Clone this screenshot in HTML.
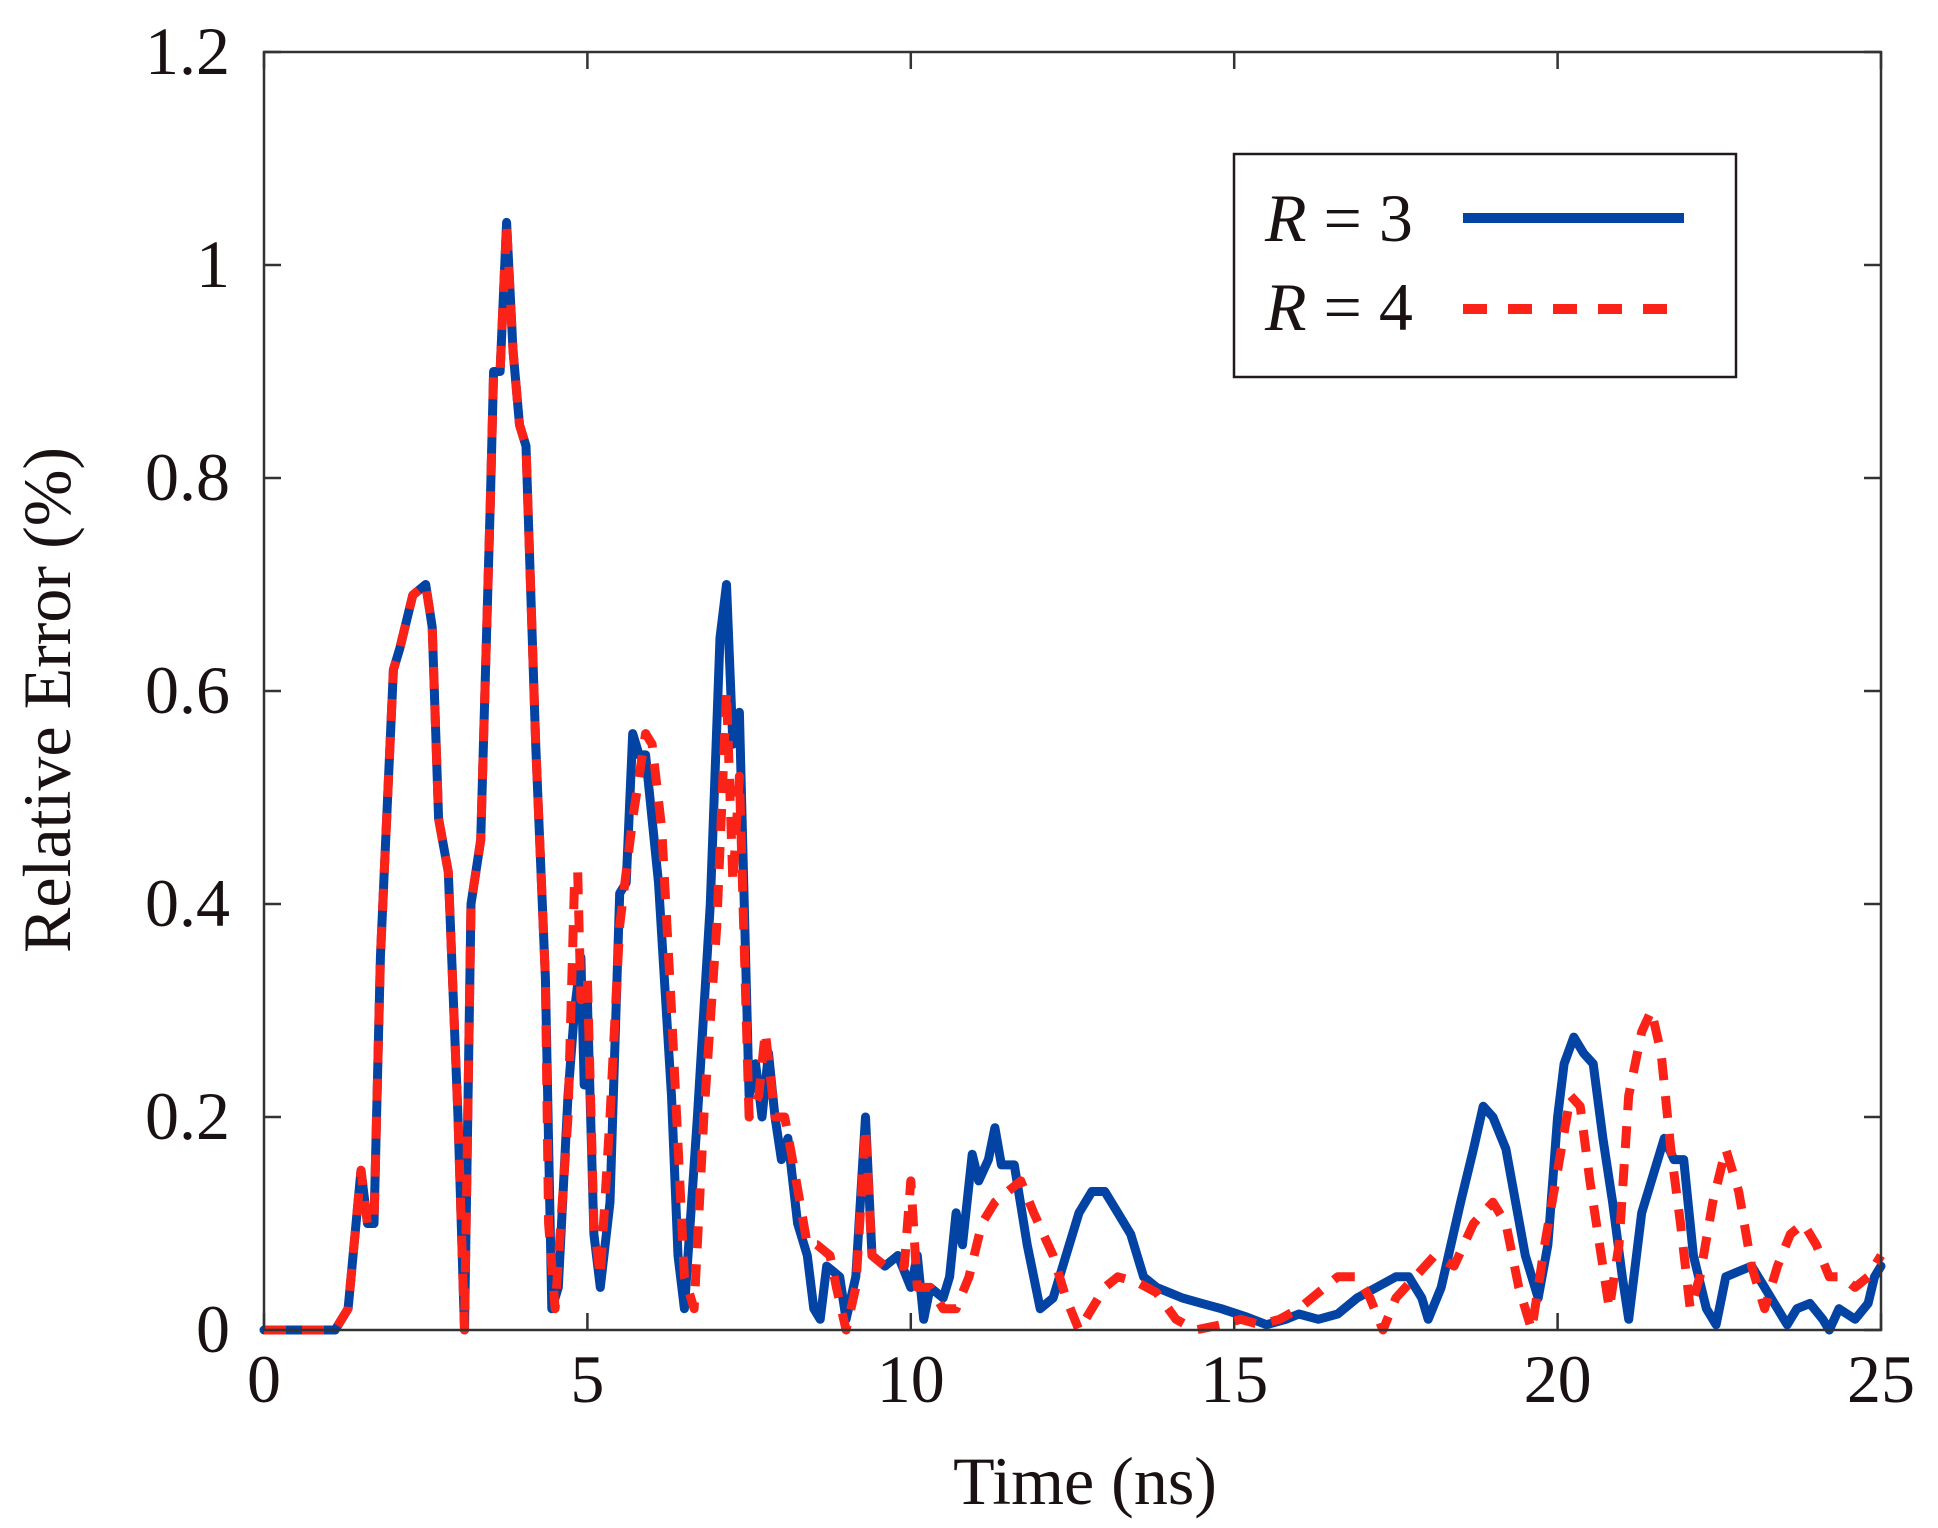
<!DOCTYPE html>
<html><head><meta charset="utf-8"><style>
html,body{margin:0;padding:0;background:#fff;}
svg{display:block;}
text{font-family:"Liberation Serif",serif;fill:#1a1212;}
</style></head><body>
<svg id="s" width="1938" height="1528" viewBox="0 0 1938 1528" xmlns="http://www.w3.org/2000/svg">
<rect x="0" y="0" width="1938" height="1528" fill="#fff"/>
<g id="ticks" stroke="#333" stroke-width="2.5" fill="none"></g>
<g id="labels" font-size="68"></g>
<text x="1085" y="1504" font-size="68" text-anchor="middle">Time (ns)</text>
<text transform="translate(70,700) rotate(-90)" font-size="68" text-anchor="middle">Relative Error (%)</text>
<path id="blue" fill="none" stroke="#0343a3" stroke-width="9" stroke-linejoin="round" stroke-linecap="round"/>
<path id="red" fill="none" stroke="#fb2217" stroke-width="9" stroke-dasharray="22 16" stroke-linejoin="round"/>
<rect x="264" y="52" width="1617" height="1278" fill="none" stroke="#333" stroke-width="2.5"/>
<rect x="1234" y="154" width="502" height="223" fill="#fff" stroke="#221a1a" stroke-width="2.5"/>
<text x="1265" y="241" font-size="68"><tspan font-style="italic">R</tspan> = 3</text>
<text x="1265" y="330" font-size="68"><tspan font-style="italic">R</tspan> = 4</text>
<line x1="1463" y1="218" x2="1684" y2="218" stroke="#0343a3" stroke-width="10"/>
<line x1="1463" y1="309" x2="1684" y2="309" stroke="#fb2217" stroke-width="10" stroke-dasharray="24 21"/>
</svg>
<script>
var X=function(t){return 264+t*1617/25;}, Y=function(v){return 1330-v*1278/1.2;};
var tk=document.getElementById('ticks'), lb=document.getElementById('labels'), ns='http://www.w3.org/2000/svg';
function el(p,n,a,txt){var e=document.createElementNS(ns,n);for(var k in a)e.setAttribute(k,a[k]);if(txt!==undefined)e.textContent=txt;p.appendChild(e);}
for(var t=0;t<=25;t+=5){var x=X(t);el(tk,'line',{x1:x,y1:1330,x2:x,y2:1313});el(tk,'line',{x1:x,y1:52,x2:x,y2:69});el(lb,'text',{x:x,y:1402,'text-anchor':'middle'},String(t));}
var yl=['0','0.2','0.4','0.6','0.8','1','1.2'];
for(var i=0;i<=6;i++){var y=Y(i*0.2);el(tk,'line',{x1:264,y1:y,x2:281,y2:y});el(tk,'line',{x1:1881,y1:y,x2:1864,y2:y});el(lb,'text',{x:230,y:y+22,'text-anchor':'end'},yl[i]);}
var common=[[0,0],[0.5,0],[1.1,0],[1.3,0.02],[1.5,0.15],[1.6,0.1],[1.7,0.1],[1.8,0.35],[2.0,0.62],[2.1,0.64],[2.3,0.69],[2.5,0.70],[2.6,0.66],[2.7,0.48],[2.85,0.43],[3.0,0.2],[3.1,0.0],[3.2,0.4],[3.35,0.46],[3.5,0.78],[3.55,0.90],[3.65,0.90],[3.75,1.04],[3.85,0.92],[3.95,0.85],[4.05,0.83],[4.2,0.55],[4.35,0.33]];
var b=common.concat([[4.45,0.02],[4.55,0.04],[4.7,0.22],[4.8,0.3],[4.9,0.35],[4.95,0.23],[5.0,0.31],[5.1,0.09],[5.2,0.04],[5.35,0.12],[5.5,0.41],[5.6,0.42],[5.7,0.56],[5.8,0.54],[5.9,0.54],[6.1,0.42],[6.3,0.22],[6.4,0.07],[6.5,0.02],[6.7,0.2],[6.9,0.4],[7.05,0.65],[7.15,0.7],[7.25,0.55],[7.35,0.58],[7.5,0.22],[7.6,0.25],[7.7,0.2],[7.8,0.26],[7.9,0.2],[8.0,0.16],[8.1,0.18],[8.25,0.1],[8.4,0.07],[8.5,0.02],[8.6,0.01],[8.7,0.06],[8.8,0.055],[8.9,0.05],[9.0,0.01],[9.15,0.05],[9.3,0.2],[9.4,0.07],[9.6,0.06],[9.8,0.07],[10.0,0.04],[10.1,0.07],[10.2,0.01],[10.3,0.04],[10.5,0.03],[10.6,0.05],[10.7,0.11],[10.8,0.08],[10.95,0.165],[11.05,0.14],[11.2,0.16],[11.3,0.19],[11.4,0.155],[11.6,0.155],[11.8,0.08],[12.0,0.02],[12.2,0.03],[12.4,0.07],[12.6,0.11],[12.8,0.13],[13.0,0.13],[13.2,0.11],[13.4,0.09],[13.6,0.05],[13.8,0.04],[14.0,0.035],[14.2,0.03],[14.5,0.025],[14.8,0.02],[15.2,0.012],[15.5,0.005],[15.8,0.01],[16.0,0.015],[16.3,0.01],[16.6,0.015],[16.9,0.03],[17.2,0.04],[17.5,0.05],[17.7,0.05],[17.9,0.03],[18.0,0.01],[18.2,0.04],[18.5,0.12],[18.7,0.17],[18.85,0.21],[19.0,0.2],[19.2,0.17],[19.35,0.12],[19.5,0.07],[19.7,0.03],[19.85,0.08],[20.0,0.2],[20.1,0.25],[20.25,0.275],[20.4,0.26],[20.55,0.25],[20.7,0.18],[20.85,0.12],[21.0,0.05],[21.1,0.01],[21.3,0.11],[21.5,0.15],[21.65,0.18],[21.8,0.16],[21.95,0.16],[22.1,0.07],[22.3,0.02],[22.45,0.005],[22.6,0.05],[22.8,0.055],[23.0,0.06],[23.2,0.04],[23.4,0.02],[23.55,0.005],[23.7,0.02],[23.9,0.025],[24.1,0.01],[24.2,0.0],[24.35,0.02],[24.6,0.01],[24.8,0.025],[24.9,0.05],[25.0,0.06]]);
var r=common.concat([[4.4,0.1],[4.5,0.02],[4.7,0.2],[4.8,0.42],[4.85,0.43],[4.9,0.31],[5.0,0.33],[5.1,0.1],[5.2,0.05],[5.35,0.2],[5.5,0.38],[5.7,0.48],[5.9,0.56],[6.0,0.55],[6.15,0.47],[6.3,0.3],[6.5,0.05],[6.65,0.02],[6.8,0.2],[7.0,0.38],[7.15,0.6],[7.25,0.42],[7.35,0.52],[7.5,0.2],[7.65,0.22],[7.75,0.28],[7.9,0.2],[8.05,0.2],[8.2,0.15],[8.4,0.08],[8.55,0.08],[8.75,0.07],[8.85,0.04],[9.0,0.0],[9.15,0.04],[9.3,0.19],[9.4,0.07],[9.6,0.06],[9.75,0.06],[9.9,0.06],[10.0,0.14],[10.1,0.04],[10.3,0.04],[10.5,0.02],[10.7,0.02],[10.9,0.05],[11.1,0.1],[11.3,0.12],[11.5,0.13],[11.7,0.14],[11.9,0.11],[12.2,0.07],[12.4,0.03],[12.6,0.0],[12.8,0.02],[13.0,0.04],[13.2,0.05],[13.5,0.045],[13.8,0.035],[14.1,0.01],[14.4,0.0],[14.8,0.005],[15.1,0.01],[15.4,0.005],[15.7,0.01],[16.0,0.02],[16.3,0.035],[16.6,0.05],[16.9,0.05],[17.1,0.03],[17.3,0.0],[17.5,0.03],[17.8,0.05],[18.1,0.07],[18.4,0.06],[18.7,0.1],[19.0,0.12],[19.2,0.1],[19.4,0.04],[19.6,0.0],[19.8,0.08],[20.0,0.15],[20.2,0.22],[20.35,0.21],[20.5,0.14],[20.65,0.08],[20.8,0.02],[20.95,0.08],[21.1,0.22],[21.3,0.28],[21.45,0.3],[21.6,0.26],[21.75,0.17],[21.9,0.1],[22.05,0.02],[22.2,0.05],[22.4,0.12],[22.6,0.17],[22.8,0.13],[23.0,0.06],[23.2,0.02],[23.4,0.06],[23.6,0.09],[23.8,0.1],[24.0,0.08],[24.2,0.05],[24.4,0.05],[24.6,0.04],[24.8,0.05],[25.0,0.07]]);
function d(a){return a.map(function(p,i){return (i?'L':'M')+X(p[0]).toFixed(1)+' '+Y(p[1]).toFixed(1);}).join(' ');}
document.getElementById('blue').setAttribute('d',d(b));
document.getElementById('red').setAttribute('d',d(r));
</script>
</body></html>
